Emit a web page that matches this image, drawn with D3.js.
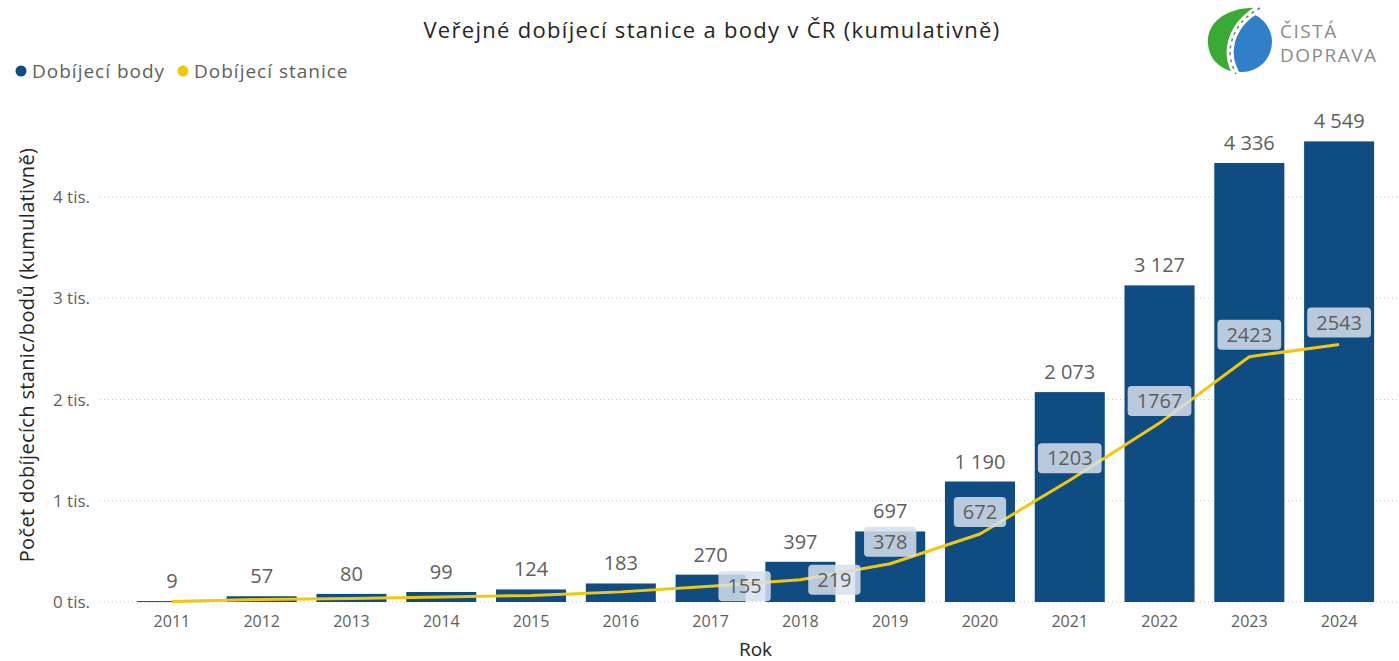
<!DOCTYPE html>
<html>
<head>
<meta charset="utf-8">
<script src="https://cdn.jsdelivr.net/npm/d3@7"></script>
<style>
  html, body { margin: 0; padding: 0; background: #fff; }
  svg { display: block; font-family: "Segoe UI", "Open Sans", "Noto Sans", sans-serif; }
</style>
</head>
<body>
<svg id="chart" width="1399" height="661"></svg>
<script>
// ── Data ─────────────────────────────────────────────
const years    = ['2011','2012','2013','2014','2015','2016','2017','2018','2019','2020','2021','2022','2023','2024'];
const points   = [9, 57, 80, 99, 124, 183, 270, 397, 697, 1190, 2073, 3127, 4336, 4549];   // Dobíjecí body
const stations = [5, 25, 35, 50, 65, 100, 155, 219, 378, 672, 1203, 1767, 2423, 2543];     // Dobíjecí stanice
const stationLabelFrom = 6;   // first six station values carry no label in the original
const yTicks   = [0, 1000, 2000, 3000, 4000];

const colors = { bars: '#0f4c81', line: '#f2c80f', text: '#605e5c', dark: '#252423', grid: '#c8c8c8' };

const svg = d3.select('#chart');
const W = 1399, H = 661;
const m = { left: 127, right: 15, top: 116, bottom: 59 };

const x = d3.scaleBand().domain(years).range([m.left, W - m.right]).paddingInner(0.22).paddingOuter(0.11);
const y = d3.scaleLinear().domain([0, 4800]).range([H - m.bottom, m.top]);

const fmt = v => d3.format(',')(v).replace(/,/g, '\u00a0');

// ── Title ──
svg.append('text')
  .attr('x', 712).attr('y', 38)
  .attr('text-anchor', 'middle')
  .attr('font-size', 22).attr('letter-spacing', 1.3).attr('fill', colors.dark)
  .text('Veřejné dobíjecí stanice a body v ČR (kumulativně)');

// ── Legend ──
const legend = [
  { label: 'Dobíjecí body',    color: colors.bars, x: 21 },
  { label: 'Dobíjecí stanice', color: colors.line, x: 183 }
];
legend.forEach(l => {
  svg.append('circle').attr('cx', l.x).attr('cy', 71).attr('r', 5.5).attr('fill', l.color);
  svg.append('text').attr('x', l.x + 11).attr('y', 78)
    .attr('font-size', 19).attr('letter-spacing', 1).attr('fill', colors.text).text(l.label);
});

// ── Grid + y ticks ──
svg.append('g').selectAll('line').data(yTicks).join('line')
  .attr('x1', 100).attr('x2', W)
  .attr('y1', d => y(d)).attr('y2', d => y(d))
  .attr('stroke', colors.grid).attr('stroke-width', 1)
  .attr('stroke-dasharray', '1,3');

svg.append('g').selectAll('text').data(yTicks).join('text')
  .attr('x', 90).attr('y', d => y(d) + 6)
  .attr('text-anchor', 'end')
  .attr('font-size', 17).attr('fill', colors.text)
  .text(d => `${d / 1000} tis.`);

// ── Axis titles ──
svg.append('text')
  .attr('transform', 'translate(34,355) rotate(-90)')
  .attr('text-anchor', 'middle')
  .attr('font-size', 20).attr('letter-spacing', 0.35).attr('fill', colors.dark)
  .text('Počet dobíjecích stanic/bodů (kumulativně)');

svg.append('text')
  .attr('x', (x.range()[0] + x.range()[1]) / 2).attr('y', 656)
  .attr('text-anchor', 'middle')
  .attr('font-size', 19).attr('fill', colors.dark)
  .text('Rok');

// ── X axis labels ──
svg.append('g').selectAll('text').data(years).join('text')
  .attr('x', d => x(d) + x.bandwidth() / 2).attr('y', 627)
  .attr('text-anchor', 'middle')
  .attr('font-size', 16).attr('fill', colors.text)
  .text(d => d);

// ── Bars ──
svg.append('g').selectAll('rect').data(years).join('rect')
  .attr('x', d => x(d)).attr('width', x.bandwidth())
  .attr('y', (d, i) => y(points[i]))
  .attr('height', (d, i) => Math.max(1, y(0) - y(points[i])))
  .attr('fill', colors.bars);

svg.append('g').selectAll('text').data(years).join('text')
  .attr('x', d => x(d) + x.bandwidth() / 2)
  .attr('y', (d, i) => y(points[i]) - 13)
  .attr('text-anchor', 'middle')
  .attr('font-size', 20).attr('fill', colors.text)
  .text((d, i) => fmt(points[i]));

// ── Line ──
const cx = d => x(d) + x.bandwidth() / 2;
const line = d3.line().x(d => cx(d)).y((d, i) => y(stations[i]));
svg.append('path')
  .datum(years)
  .attr('d', line)
  .attr('fill', 'none')
  .attr('stroke', colors.line)
  .attr('stroke-width', 3)
  .attr('stroke-linejoin', 'round');

// ── Line labels (boxed) ──
const lbl = svg.append('g');
years.forEach((d, i) => {
  if (i < stationLabelFrom) return;
  const v = stations[i];
  // small values sit to the right of the point, larger above it
  const side = v < 300;
  const px = cx(d) + (side ? 34 : 0);
  const py = y(v) - (side ? 0 : 22);
  const box = lbl.append('rect');
  const t = lbl.append('text')
    .attr('x', px).attr('y', py + 7)
    .attr('text-anchor', 'middle')
    .attr('font-size', 20).attr('fill', colors.text)
    .text(String(v));
  const bw = t.node().getComputedTextLength() + 18, bh = 30;
  box.attr('x', px - bw / 2).attr('y', py - bh / 2)
    .attr('width', bw).attr('height', bh)
    .attr('rx', 4)
    .attr('fill', 'rgba(214,224,236,0.85)');
});

// ── Logo ──
const logo = svg.append('g').attr('transform', 'translate(1238,40)');
logo.append('circle').attr('cx', 4).attr('cy', 2).attr('r', 30).attr('fill', '#2f7fc9');
logo.append('path')
  .attr('d', 'M-30,4 C-32,-18 -10,-34 22,-32 C6,-24 -4,-12 -8,2 C-12,16 -8,26 -4,32 C-20,28 -29,18 -30,4 Z')
  .attr('fill', '#3aaa35');
logo.append('path')
  .attr('d', 'M22,-32 C4,-22 -4,-10 -7,4 C-10,18 -5,27 -2,34')
  .attr('fill', 'none').attr('stroke', '#fff').attr('stroke-width', 7);
logo.append('path')
  .attr('d', 'M22,-32 C4,-22 -4,-10 -7,4 C-10,18 -5,27 -2,34')
  .attr('fill', 'none').attr('stroke', '#777').attr('stroke-width', 1.5)
  .attr('stroke-dasharray', '3,4');
svg.append('text').attr('x', 1280).attr('y', 38)
  .attr('font-size', 19).attr('letter-spacing', 1.5).attr('fill', '#8a8a8a').text('ČISTÁ');
svg.append('text').attr('x', 1280).attr('y', 62)
  .attr('font-size', 19).attr('letter-spacing', 1.5).attr('fill', '#8a8a8a').text('DOPRAVA');
</script>
</body>
</html>
